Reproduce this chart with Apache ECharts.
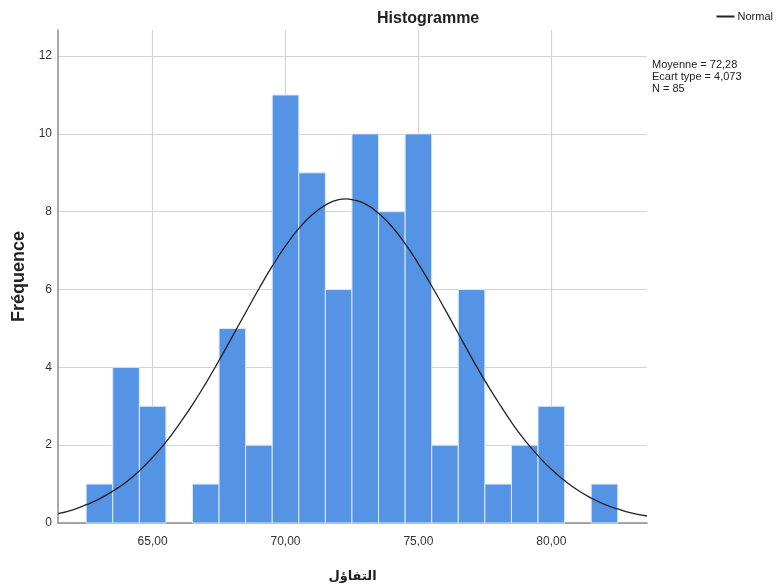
<!DOCTYPE html>
<html>
<head>
<meta charset="utf-8">
<script src="https://cdn.jsdelivr.net/npm/echarts@6/dist/echarts.min.js"></script>
<style>
html,body{margin:0;padding:0;background:#fff;}
#chart{width:776px;height:588px;}
</style>
</head>
<body>
<div id="chart"></div>
<script>
// Histogram bins (centers, width 1) and counts
const binCenters = [63,64,65,66,67,68,69,70,71,72,73,74,75,76,77,78,79,80,81,82];
const binCounts  = [1, 4, 3, 0, 1, 5, 2, 11,9, 6, 10,8, 10,2, 6, 1, 2, 3, 0, 1];
// Normal curve points
const curveX = [61.44,62,62.5,63,63.5,64,64.5,65,65.5,66,66.5,67,67.5,68,68.5,69,69.5,70,70.5,71,71.5,72,72.28,72.5,73,73.5,74,74.5,75,75.5,76,76.5,77,77.5,78,78.5,79,79.5,80,80.5,81,81.5,82,82.5,83,83.6];
const curveY = [0.24,0.34,0.47,0.62,0.82,1.05,1.34,1.69,2.08,2.54,3.04,3.59,4.18,4.79,5.41,6.02,6.60,7.12,7.57,7.92,8.17,8.31,8.33,8.31,8.20,7.96,7.62,7.18,6.66,6.09,5.49,4.87,4.25,3.66,3.11,2.59,2.13,1.73,1.38,1.09,0.84,0.64,0.48,0.36,0.26,0.18];
const xTicks = [65,70,75,80];
const yTicks = [0,2,4,6,8,10,12];
const statsLines = ['Moyenne = 72,28','Ecart type = 4,073','N = 85'];

const chart = echarts.init(document.getElementById('chart'));
const fmtX = v => v.toFixed(2).replace('.', ',');

chart.setOption({
  animation:false,
  backgroundColor:'#ffffff',
  title:{
    text:'Histogramme', left:372, top:6,
    textStyle:{fontFamily:'Liberation Sans, Arial', fontWeight:'bold', fontSize:16, color:'#222'}
  },
  legend:{
    right:-2, top:6, itemWidth:18, itemHeight:2, itemGap:4,
    icon:'rect',
    textStyle:{fontFamily:'Liberation Sans Narrow, Liberation Sans', fontSize:11, color:'#222', padding:[0,0,0,-2]},
    data:[{name:'Normal', itemStyle:{color:'#222'}}]
  },
  grid:{left:58, right:129, top:30, bottom:65, containLabel:false, outerBoundsMode:'none'},
  xAxis:{
    type:'value', min:61.44, max:83.6,
    name:'التفاؤل', nameLocation:'middle', nameGap:47,
    nameTextStyle:{fontFamily:'DejaVu Sans', fontWeight:'bold', fontSize:13, color:'#222'},
    axisLine:{show:true, lineStyle:{color:'#8c8c8c', width:1.5}},
    axisTick:{show:false, customValues:xTicks},
    axisLabel:{customValues:xTicks, formatter:fmtX, fontFamily:'Liberation Sans Narrow, Liberation Sans', fontSize:12, color:'#333', margin:13},
    splitLine:{show:true, lineStyle:{color:'#d4d4d4', width:1.2}}
  },
  yAxis:{
    type:'value', min:0, max:12.67,
    name:'Fréquence', nameLocation:'middle', nameGap:27, nameRotate:90,
    nameTextStyle:{fontFamily:'Liberation Sans, Arial', fontWeight:'bold', fontSize:18, color:'#222'},
    axisLine:{show:true, lineStyle:{color:'#8c8c8c', width:1.5}},
    axisTick:{show:false, customValues:yTicks},
    axisLabel:{customValues:yTicks, fontFamily:'Liberation Sans Narrow, Liberation Sans', fontSize:12, color:'#333', margin:6},
    splitLine:{show:true, lineStyle:{color:'#d4d4d4', width:1.2}}
  },
  graphic:[{
    type:'text', left:652, top:59,
    style:{text:statsLines.join('\n'), fontFamily:'Liberation Sans Narrow, Liberation Sans', fontSize:11, lineHeight:12, fill:'#222'}
  }],
  series:[
    {
      type:'custom', name:'Histogramme', z:2,
      data: binCenters.map((c,i)=>[c, binCounts[i]]),
      renderItem:function(params, api){
        const c = api.value(0), v = api.value(1);
        if (!v) return null;
        const p0 = api.coord([c-0.5, v]);
        const p1 = api.coord([c+0.5, 0]);
        return {
          type:'rect',
          shape:{x:p0[0], y:p0[1], width:p1[0]-p0[0], height:p1[1]-p0[1]},
          style:{fill:'#5593e4', stroke:'#dce9fa', lineWidth:1}
        };
      }
    },
    {
      type:'line', name:'Normal', z:3,
      data: curveX.map((x,i)=>[x, curveY[i]]),
      smooth:true, showSymbol:false, symbol:'none',
      lineStyle:{color:'#222', width:1.3},
      itemStyle:{color:'#222'}
    }
  ]
});
</script>
</body>
</html>
